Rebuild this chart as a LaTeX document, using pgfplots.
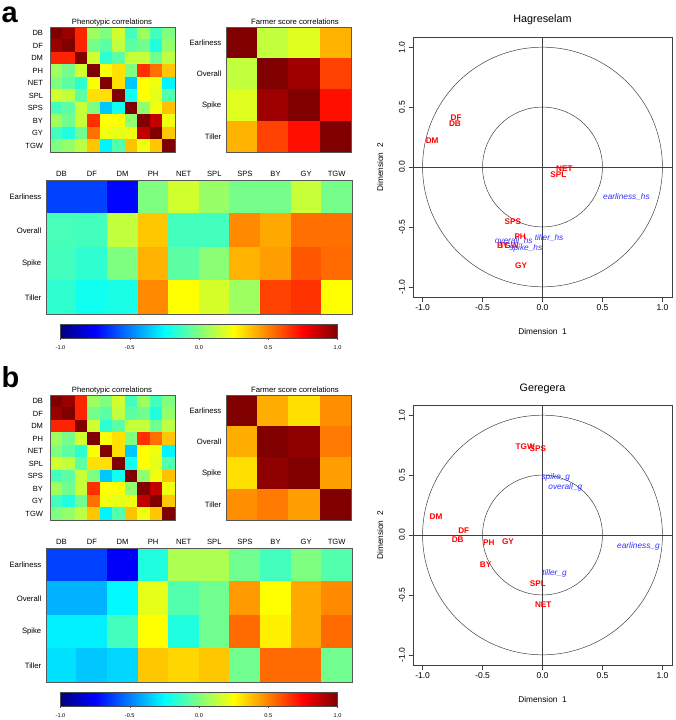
\documentclass[border=0pt]{standalone}
\usepackage{pgfplots}
\pgfplotsset{compat=1.18}
\usepackage{pgfplotstable}
\usepackage{fontspec}
\setmainfont{Liberation Sans}
\newcommand{\fs}[1]{\fontsize{#1}{#1}\selectfont}

\pgfplotstableread[row sep=\\]{
x y c\\
0 0 1\\ 1 0 0.95\\ 2 0 0.68\\ 3 0 0.06\\ 4 0 0\\ 5 0 0.16\\ 6 0 -0.12\\ 7 0 0.06\\ 8 0 -0.12\\ 9 0 0\\
0 1 0.95\\ 1 1 1\\ 2 1 0.68\\ 3 1 -0.02\\ 4 1 -0.07\\ 5 1 0.13\\ 6 1 -0.07\\ 7 1 -0.03\\ 8 1 -0.19\\ 9 1 0.04\\
0 2 0.68\\ 1 2 0.68\\ 2 2 1\\ 3 2 0.16\\ 4 2 -0.16\\ 5 2 -0.07\\ 6 2 0.14\\ 7 2 0.14\\ 8 2 -0.03\\ 9 2 0.12\\
0 3 0.06\\ 1 3 -0.02\\ 2 3 0.16\\ 3 3 1\\ 4 3 0.24\\ 5 3 0.31\\ 6 3 0\\ 7 3 0.66\\ 8 3 0.53\\ 9 3 0.36\\
0 4 0\\ 1 4 -0.07\\ 2 4 -0.16\\ 3 4 0.24\\ 4 4 1\\ 5 4 0.31\\ 6 4 -0.36\\ 7 4 0.25\\ 8 4 0.22\\ 9 4 -0.27\\
0 5 0.16\\ 1 5 0.13\\ 2 5 -0.07\\ 3 5 0.31\\ 4 5 0.31\\ 5 5 1\\ 6 5 -0.22\\ 7 5 0.25\\ 8 5 0.20\\ 9 5 -0.09\\
0 6 -0.12\\ 1 6 -0.07\\ 2 6 0.14\\ 3 6 0\\ 4 6 -0.36\\ 5 6 -0.22\\ 6 6 1\\ 7 6 0.03\\ 8 6 0.22\\ 9 6 0.37\\
0 7 0.06\\ 1 7 -0.03\\ 2 7 0.14\\ 3 7 0.66\\ 4 7 0.25\\ 5 7 0.25\\ 6 7 0.03\\ 7 7 1\\ 8 7 0.87\\ 9 7 0.22\\
0 8 -0.12\\ 1 8 -0.19\\ 2 8 -0.03\\ 3 8 0.53\\ 4 8 0.22\\ 5 8 0.20\\ 6 8 0.22\\ 7 8 0.87\\ 8 8 1\\ 9 8 0.36\\
0 9 0\\ 1 9 0.04\\ 2 9 0.12\\ 3 9 0.36\\ 4 9 -0.27\\ 5 9 -0.09\\ 6 9 0.37\\ 7 9 0.22\\ 8 9 0.36\\ 9 9 1\\
}\pheno

\pgfplotstableread[row sep=\\]{
x y c\\
0 0 1\\ 1 0 0.13\\ 2 0 0.19\\ 3 0 0.40\\
0 1 0.13\\ 1 1 1\\ 2 1 0.94\\ 3 1 0.62\\
0 2 0.19\\ 1 2 0.94\\ 2 2 1\\ 3 2 0.72\\
0 3 0.40\\ 1 3 0.62\\ 2 3 0.72\\ 3 3 1\\
}\farmA

\pgfplotstableread[row sep=\\]{
x y c\\
0 0 1\\ 1 0 0.41\\ 2 0 0.31\\ 3 0 0.47\\
0 1 0.41\\ 1 1 1\\ 2 1 0.97\\ 3 1 0.51\\
0 2 0.31\\ 1 2 0.97\\ 2 2 1\\ 3 2 0.44\\
0 3 0.47\\ 1 3 0.51\\ 2 3 0.44\\ 3 3 1\\
}\farmB

\pgfplotstableread[row sep=\\]{
x y c\\
0 0 -0.62\\ 1 0 -0.62\\ 2 0 -0.74\\ 3 0 0\\ 4 0 0.16\\ 5 0 0.05\\ 6 0 -0.02\\ 7 0 -0.02\\ 8 0 0.14\\ 9 0 -0.02\\
0 1 -0.11\\ 1 1 -0.12\\ 2 1 0.13\\ 3 1 0.36\\ 4 1 -0.12\\ 5 1 -0.12\\ 6 1 0.48\\ 7 1 0.42\\ 8 1 0.53\\ 9 1 0.53\\
0 2 -0.12\\ 1 2 -0.16\\ 2 2 0\\ 3 2 0.40\\ 4 2 -0.07\\ 5 2 0.02\\ 6 2 0.40\\ 7 2 0.44\\ 8 2 0.58\\ 9 2 0.54\\
0 3 -0.16\\ 1 3 -0.22\\ 2 3 -0.20\\ 3 3 0.48\\ 4 3 0.25\\ 5 3 0.17\\ 6 3 0.06\\ 7 3 0.62\\ 8 3 0.65\\ 9 3 0.25\\
}\crossA

\pgfplotstableread[row sep=\\]{
x y c\\
0 0 -0.62\\ 1 0 -0.62\\ 2 0 -0.76\\ 3 0 -0.19\\ 4 0 0.09\\ 5 0 0.09\\ 6 0 -0.03\\ 7 0 -0.12\\ 8 0 0\\ 9 0 -0.09\\
0 1 -0.40\\ 1 1 -0.40\\ 2 1 -0.26\\ 3 1 0.20\\ 4 1 -0.09\\ 5 1 -0.03\\ 6 1 0.45\\ 7 1 0.25\\ 8 1 0.42\\ 9 1 0.48\\
0 2 -0.28\\ 1 2 -0.28\\ 2 2 -0.12\\ 3 2 0.25\\ 4 2 -0.19\\ 5 2 -0.03\\ 6 2 0.54\\ 7 2 0.28\\ 8 2 0.42\\ 9 2 0.54\\
0 3 -0.31\\ 1 3 -0.36\\ 2 3 -0.33\\ 3 3 0.36\\ 4 3 0.33\\ 5 3 0.36\\ 6 3 -0.03\\ 7 3 0.54\\ 8 3 0.54\\ 9 3 -0.03\\
}\crossB

\definecolor{lblblue}{RGB}{50,50,255}

\pgfplotsset{
  /pgf/number format/assume math mode=true,
  hm/.style={scale only axis, anchor=north west, enlargelimits=false, axis on top,
    y dir=reverse, colormap/jet, point meta min=-1, point meta max=1,
    axis line style={draw=black!65, line width=0.5pt},
    tick style={draw=none}, major tick length=0pt, xtick=\empty},
  pheno/.style={hm, width=125pt, height=125pt, xmin=-0.5, xmax=9.5, ymin=-0.5, ymax=9.5,
    ytick={0,...,9}, yticklabels={DB,DF,DM,PH,NET,SPL,SPS,BY,GY,TGW},
    yticklabel style={font=\fs{7.5}, xshift=-3.5pt}},
  farm/.style={hm, width=125pt, height=125pt, xmin=-0.5, xmax=3.5, ymin=-0.5, ymax=3.5,
    ytick={0,...,3}, yticklabels={Earliness,Overall,Spike,Tiller},
    yticklabel style={font=\fs{7.7}, xshift=-1.2pt}},
  cross/.style={hm, width=306pt, height=134pt, xmin=-0.5, xmax=9.5, ymin=-0.5, ymax=3.5,
    ytick={0,...,3}, yticklabels={Earliness,Overall,Spike,Tiller},
    yticklabel style={font=\fs{7.7}, xshift=-1.2pt},
    xtick={0,...,9}, xticklabels={DB,DF,DM,PH,NET,SPL,SPS,BY,GY,TGW},
    xticklabel pos=right, xticklabel style={font=\fs{7.6}},
    colorbar horizontal,
    colorbar style={at={(parent axis.south)}, anchor=north, yshift=-1.8pt,
      width=277pt, height=13.7pt, xtick={-1,-0.5,0,0.5,1}, ytick=\empty,
      xtick pos=left, tick align=outside, major tick length=2pt,
      xtick style={draw=black!70, line width=0.4pt},
      axis line style={draw=black!70, line width=0.5pt},
      xticklabel style={font=\fs{5.6}, yshift=-2.5pt, /pgf/number format/fixed,
        /pgf/number format/fixed zerofill, /pgf/number format/precision=1}}},
  circ/.style={scale only axis, anchor=north west, width=259pt, height=260pt,
    xmin=-1.08, xmax=1.08, ymin=-1.085, ymax=1.085, clip=false,
    xtick={-1,-0.5,0,0.5,1}, ytick={-1,-0.5,0,0.5,1},
    tick align=outside, xtick pos=left, ytick pos=left, major tick length=4.5pt,
    tick style={draw=black!75, line width=0.5pt},
    axis line style={draw=black!75, line width=0.5pt},
    ticklabel style={font=\fs{8.5}, /pgf/number format/fixed,
        /pgf/number format/fixed zerofill, /pgf/number format/precision=1},
    yticklabel style={rotate=90, anchor=south}},
  redlab/.style={draw=none, mark=none,
    point meta=explicit symbolic, nodes near coords,
    nodes near coords style={anchor=center, inner sep=0pt, text=red, font=\bfseries\fs{8.2}}},
  bluelab/.style={draw=none, mark=none,
    point meta=explicit symbolic, nodes near coords,
    nodes near coords style={anchor=center, inner sep=0pt, text=lblblue, font=\itshape\fs{8.3}}},
}

\begin{document}
\begin{tikzpicture}
\useasboundingbox (0,0) rectangle (675pt,-720pt);

% ================= Panel a =================
\node[anchor=base west, inner sep=0pt, font=\bfseries\fs{29}] at (1.5pt,-22pt) {a};

\begin{axis}[pheno, at={(50pt,-27pt)}]
\addplot[matrix plot*, mesh/cols=10, point meta=explicit] table[x=x, y=y, meta=c] {\pheno};
\end{axis}
\node[anchor=base, font=\fs{7.7}] at (112pt,-24.5pt) {Phenotypic correlations};

\begin{axis}[farm, at={(226pt,-27pt)}]
\addplot[matrix plot*, mesh/cols=4, point meta=explicit] table[x=x, y=y, meta=c] {\farmA};
\end{axis}
\node[anchor=base, font=\fs{7.7}] at (295pt,-24.5pt) {Farmer score correlations};

\begin{axis}[cross, at={(46pt,-180pt)}]
\addplot[matrix plot*, mesh/cols=10, point meta=explicit] table[x=x, y=y, meta=c] {\crossA};
\end{axis}

\begin{axis}[circ, at={(413pt,-37pt)}]
\addplot[redlab] coordinates {
 (-0.72,0.41) [DF] (-0.73,0.364) [DB] (-0.92,0.217) [DM]
 (0.183,-0.017) [NET] (0.133,-0.061) [SPL] (-0.247,-0.459) [SPS]
 (-0.186,-0.579) [PH] (-0.28,-0.654) [TGW] (-0.33,-0.66) [BY] (-0.178,-0.82) [GY]
};
\addplot[bluelab] coordinates {
 (0.70,-0.253) [earliness\_hs] (0.055,-0.59) [tiller\_hs]
 (-0.24,-0.617) [overall\_hs] (-0.139,-0.676) [spike\_hs]
};
\draw[black!75, line width=0.5pt] (axis cs:0,0) circle[radius=1];
\draw[black!75, line width=0.5pt] (axis cs:0,0) circle[radius=0.5];
\draw[black!75, line width=0.5pt] (axis cs:-1.08,0) -- (axis cs:1.08,0);
\draw[black!75, line width=0.5pt] (axis cs:0,-1.085) -- (axis cs:0,1.085);
\end{axis}
\node[anchor=base, font=\fs{10.8}] at (542.5pt,-23pt) {Hagreselam};
\node[anchor=base, font=\fs{8.3}] at (542.5pt,-334pt) {Dimension\ \ 1};
\node[anchor=base, rotate=90, font=\fs{8.3}] at (383pt,-167.5pt) {Dimension\ \ 2};

% ================= Panel b =================
\node[anchor=base west, inner sep=0pt, font=\bfseries\fs{29}] at (1.5pt,-387pt) {b};

\begin{axis}[pheno, at={(50pt,-395pt)}]
\addplot[matrix plot*, mesh/cols=10, point meta=explicit] table[x=x, y=y, meta=c] {\pheno};
\end{axis}
\node[anchor=base, font=\fs{7.7}] at (112pt,-392.5pt) {Phenotypic correlations};

\begin{axis}[farm, at={(226pt,-395pt)}]
\addplot[matrix plot*, mesh/cols=4, point meta=explicit] table[x=x, y=y, meta=c] {\farmB};
\end{axis}
\node[anchor=base, font=\fs{7.7}] at (295pt,-392.5pt) {Farmer score correlations};

\begin{axis}[cross, at={(46pt,-548pt)}]
\addplot[matrix plot*, mesh/cols=10, point meta=explicit] table[x=x, y=y, meta=c] {\crossB};
\end{axis}

\begin{axis}[circ, at={(413pt,-405pt)}]
\addplot[redlab] coordinates {
 (-0.144,0.734) [TGW] (-0.039,0.718) [SPS] (-0.888,0.15) [DM]
 (-0.657,0.039) [DF] (-0.707,-0.042) [DB] (-0.447,-0.064) [PH]
 (-0.288,-0.058) [GY] (-0.474,-0.25) [BY] (-0.039,-0.409) [SPL] (0.006,-0.579) [NET]
};
\addplot[bluelab] coordinates {
 (0.111,0.481) [spike\_g] (0.19,0.395) [overall\_g]
 (0.80,-0.095) [earliness\_g] (0.10,-0.32) [tiller\_g]
};
\draw[black!75, line width=0.5pt] (axis cs:0,0) circle[radius=1];
\draw[black!75, line width=0.5pt] (axis cs:0,0) circle[radius=0.5];
\draw[black!75, line width=0.5pt] (axis cs:-1.08,0) -- (axis cs:1.08,0);
\draw[black!75, line width=0.5pt] (axis cs:0,-1.085) -- (axis cs:0,1.085);
\end{axis}
\node[anchor=base, font=\fs{10.8}] at (542.5pt,-391pt) {Geregera};
\node[anchor=base, font=\fs{8.3}] at (542.5pt,-702pt) {Dimension\ \ 1};
\node[anchor=base, rotate=90, font=\fs{8.3}] at (383pt,-535.5pt) {Dimension\ \ 2};

\end{tikzpicture}
\end{document}
